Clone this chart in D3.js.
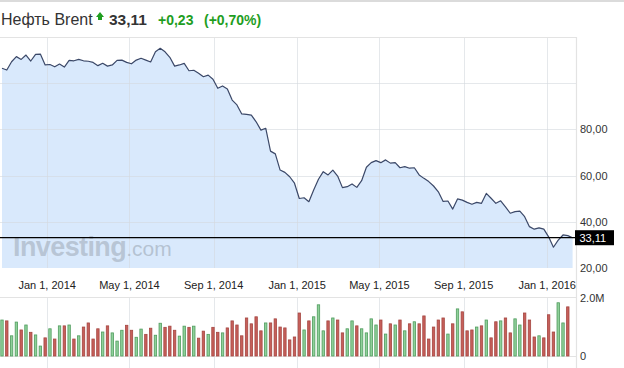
<!DOCTYPE html>
<html>
<head>
<meta charset="utf-8">
<script src="https://cdn.jsdelivr.net/npm/d3@7"></script>
<style>
    body { margin: 0; background: #fff; }
    text { font-family: "Liberation Sans", Arial, sans-serif; }
</style>
</head>
<body>
<div id="chart"></div>
<script>
// Weekly Brent closes (first week: Oct 27, 2013; last point = current price)
const firstWeek = Date.UTC(2013, 9, 27);
const lastWeek = Date.UTC(2016, 1, 7);
const closes = [
    106.5, 105.7, 109.3, 111.5, 110.3, 112.2, 109.6, 112.5, 112.6, 107.9,
    108.1, 107.1, 108.3, 107.0, 109.9, 109.7, 110.3, 109.7, 109.5, 109.0,
    107.6, 108.6, 107.4, 107.9, 109.9, 110.0, 109.0, 108.4, 110.0, 110.8,
    110.0, 109.2, 113.6, 115.1, 113.6, 111.2, 107.4, 107.9, 108.6, 105.4,
    105.6, 104.3, 102.8, 103.5, 101.7, 97.8, 98.8, 97.5, 92.7, 90.6,
    86.7, 86.5, 86.2, 83.3, 79.7, 80.5, 70.6, 69.4, 62.4, 61.4,
    59.5, 56.7, 50.1, 50.4, 48.7, 53.8, 58.4, 61.7, 60.3, 62.4,
    59.8, 54.8, 55.2, 56.4, 54.9, 57.8, 63.6, 65.6, 66.5, 65.6,
    66.8, 65.4, 65.6, 63.4, 63.9, 63.2, 63.4, 60.3, 58.8, 57.4,
    55.5, 53.0, 48.8, 49.0, 45.5, 49.9, 49.4, 48.4, 47.6, 48.4,
    48.0, 52.3, 50.2, 48.0, 49.1, 46.5, 43.7, 44.4, 44.6, 42.2,
    37.9, 36.8, 37.4, 36.8, 33.5, 29.0, 32.1, 34.3, 34.0, 33.11
];

// Weekly volume, millions
const volumes = [
    1.23, 1.20, 0.69, 1.16, 0.89, 1.06, 0.81, 0.72, 0.34, 0.62,
    0.93, 0.58, 1.03, 1.03, 1.06, 0.58, 0.69, 0.99, 1.13, 0.58,
    0.93, 0.82, 1.03, 0.79, 0.51, 0.88, 1.05, 0.88, 0.64, 0.92,
    0.74, 0.95, 0.71, 1.12, 0.98, 1.02, 0.88, 0.68, 1.02, 0.98,
    1.02, 0.61, 0.85, 0.74, 0.98, 0.81, 0.79, 0.96, 1.20, 1.06,
    0.69, 1.30, 1.10, 1.34, 0.86, 1.13, 1.13, 1.27, 0.99, 0.96,
    0.55, 0.65, 1.47, 0.89, 1.20, 1.34, 1.75, 0.86, 1.20, 1.30,
    1.23, 0.79, 0.93, 1.20, 1.03, 0.93, 0.79, 1.27, 1.06, 1.23,
    0.75, 1.10, 1.06, 1.23, 0.86, 1.10, 1.17, 1.10, 1.37, 0.58,
    0.99, 1.23, 1.30, 0.75, 1.10, 1.61, 1.51, 0.86, 0.89, 0.99,
    1.03, 1.23, 0.62, 1.17, 1.20, 1.30, 0.79, 1.27, 1.06, 1.47,
    1.23, 0.65, 0.69, 0.62, 1.41, 0.82, 1.82, 1.13, 1.68
];

const dateTicks = ["2014-01-01", "2014-05-01", "2014-09-01", "2015-01-01", "2015-05-01", "2015-09-01", "2016-01-01"];
const priceGrid = [20, 40, 60, 80, 100];
const priceLabels = [20, 40, 60, 80];
const volTicks = [0, 2];

// Header values
const titleName = "Нефть Brent";
const lastPrice = 33.11;
const change = "+0,23";
const changePct = "(+0,70%)";

// Layout
const width = 624, height = 368;
const plotRight = 576.5;
const priceTop = 37, priceBottom = 268;
const volTop = 297.5, volBottom = 356;

const green = "#1f9e1f";
const ruNum = d3.formatLocale({decimal: ",", thousands: " ", grouping: [3], currency: ["", ""]}).format(".2f");

const weeks = d3.utcWeek.range(firstWeek, lastWeek + 1);
const data = closes.map((c, i) => ({date: weeks[i], close: c}));
const volData = volumes.map((v, i) => ({
    date: weeks[i],
    vol: v,
    up: i === 0 || closes[i] >= closes[i - 1]
}));

const x = d3.scaleUtc().domain([weeks[0], weeks[weeks.length - 1]]).range([2, 572.6]);
const y = d3.scaleLinear().domain([20, 120]).range([priceBottom, priceTop]);
const yv = d3.scaleLinear().domain([0, 2]).range([volBottom, volTop]);

const svg = d3.select("#chart")
    .append("svg")
    .attr("width", width)
    .attr("height", height);

// top page rule
svg.append("line")
    .attr("x1", 0).attr("x2", width).attr("y1", 1).attr("y2", 1)
    .attr("stroke", "#cfcfcf").attr("stroke-width", 1.5);

// ---- header
const head = svg.append("text")
    .attr("x", 1)
    .attr("y", 25)
    .attr("font-size", "16px")
    .attr("fill", "#333");
head.append("tspan").text(titleName);

// little up arrow
svg.append("path")
    .attr("d", "M100,12 L104,17 L102,17 L102,20 L98,20 L98,17 L96,17 Z")
    .attr("fill", green);

svg.append("text")
    .attr("x", 109).attr("y", 25)
    .attr("font-size", "15.5px").attr("font-weight", "bold").attr("fill", "#333")
    .text(ruNum(lastPrice));

svg.append("text")
    .attr("x", 158).attr("y", 25)
    .attr("font-size", "14px").attr("font-weight", "bold").attr("fill", green)
    .text(change);

svg.append("text")
    .attr("x", 204).attr("y", 25)
    .attr("font-size", "14px").attr("font-weight", "bold").attr("fill", green)
    .text(changePct);

// ---- price panel
const area = d3.area()
    .x(d => x(d.date))
    .y0(priceBottom)
    .y1(d => y(d.close));

svg.append("path")
    .datum(data)
    .attr("d", area)
    .attr("fill", "#d9e9fc");

// grid
const grid = svg.append("g").attr("stroke", "#d4d8de").attr("stroke-opacity", 0.6).attr("stroke-width", 1);
grid.selectAll(".hg")
    .data(priceGrid.filter(v => v > 20))
    .join("line")
    .attr("x1", 0).attr("x2", plotRight)
    .attr("y1", d => Math.round(y(d)) + 0.5).attr("y2", d => Math.round(y(d)) + 0.5);

grid.selectAll(".vg")
    .data(dateTicks)
    .join("line")
    .attr("x1", d => Math.round(x(new Date(d))) + 0.5)
    .attr("x2", d => Math.round(x(new Date(d))) + 0.5)
    .attr("y1", priceTop).attr("y2", priceBottom);

grid.selectAll(".vgv")
    .data(dateTicks)
    .join("line")
    .attr("x1", d => Math.round(x(new Date(d))) + 0.5)
    .attr("x2", d => Math.round(x(new Date(d))) + 0.5)
    .attr("y1", volTop).attr("y2", height);

// panel borders
const border = svg.append("g").attr("stroke", "#e3e3e3").attr("stroke-width", 1.2).attr("fill", "none");
border.append("line").attr("x1", 0).attr("x2", plotRight).attr("y1", priceTop + 0.5).attr("y2", priceTop + 0.5);
border.append("line").attr("x1", plotRight).attr("x2", plotRight).attr("y1", priceTop).attr("y2", height);
border.append("line").attr("x1", 0).attr("x2", plotRight).attr("y1", volTop).attr("y2", volTop);
border.append("line").attr("x1", 0).attr("x2", plotRight).attr("y1", volBottom + 0.5).attr("y2", volBottom + 0.5);

// watermark
const wm = svg.append("text")
    .attr("x", 13)
    .attr("y", 256)
    .attr("fill", "#a9b6c4")
    .attr("fill-opacity", 0.7);
wm.append("tspan")
    .attr("font-size", "27px")
    .attr("font-weight", "bold")
    .attr("letter-spacing", "-0.6px")
    .text("Investing");
wm.append("tspan")
    .attr("font-size", "21px")
    .attr("fill-opacity", 0.75)
    .text(".com");

// price line
const line = d3.line()
    .x(d => x(d.date))
    .y(d => y(d.close));

svg.append("path")
    .datum(data)
    .attr("d", line)
    .attr("fill", "none")
    .attr("stroke", "#3b4868")
    .attr("stroke-width", 1.2)
    .attr("stroke-linejoin", "round");

// current price line + label
svg.append("line")
    .attr("x1", 0).attr("x2", plotRight)
    .attr("y1", y(lastPrice)).attr("y2", y(lastPrice))
    .attr("stroke", "#000").attr("stroke-width", 1.2);

svg.append("rect")
    .attr("x", plotRight - 1.5)
    .attr("y", y(lastPrice) - 7.5)
    .attr("width", 39)
    .attr("height", 15)
    .attr("fill", "#000");

svg.append("text")
    .attr("x", plotRight + 3)
    .attr("y", y(lastPrice) + 4)
    .attr("font-size", "11px")
    .attr("fill", "#fff")
    .text(ruNum(lastPrice));

// right axis labels
svg.selectAll(".plab")
    .data(priceLabels)
    .join("text")
    .attr("x", 580)
    .attr("y", d => y(d) + 4)
    .attr("font-size", "11px")
    .attr("fill", "#333")
    .text(d => ruNum(d));

// date labels
const fmt = d3.utcFormat("%b %-d, %Y");
svg.selectAll(".dlab")
    .data(dateTicks)
    .join("text")
    .attr("x", d => x(new Date(d)))
    .attr("y", 289)
    .attr("text-anchor", "middle")
    .attr("font-size", "11px")
    .attr("fill", "#222")
    .text(d => fmt(new Date(d)));

// ---- volume panel
svg.append("g")
    .selectAll("rect")
    .data(volData)
    .join("rect")
    .attr("x", d => x(d.date) - 1.2)
    .attr("y", d => yv(d.vol))
    .attr("width", 2.4)
    .attr("height", d => volBottom - yv(d.vol))
    .attr("fill", d => d.up ? "#8fd09a" : "#c65f5a")
    .attr("stroke", d => d.up ? "#4f9c5d" : "#a54641")
    .attr("stroke-width", 0.8);

svg.selectAll(".vlab")
    .data(volTicks)
    .join("text")
    .attr("x", 580)
    .attr("y", d => yv(d) + 4)
    .attr("font-size", "11px")
    .attr("fill", "#333")
    .text(d => d === 0 ? "0" : d.toFixed(1) + "M");
</script>
</body>
</html>
